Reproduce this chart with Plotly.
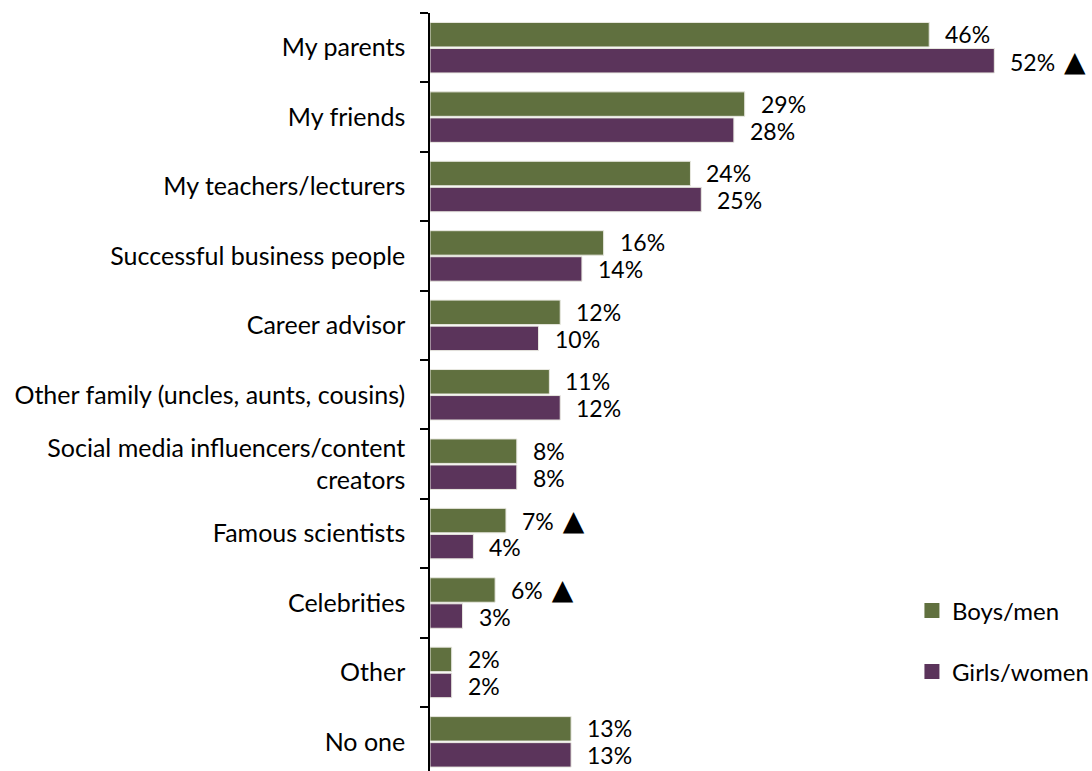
import plotly.graph_objects as go

categories = [
    "My parents",
    "My friends",
    "My teachers/lecturers",
    "Successful business people",
    "Career advisor",
    "Other family (uncles, aunts, cousins)",
    "Social media influencers/content<br>creators",
    "Famous scientists",
    "Celebrities",
    "Other",
    "No one",
]
boys = [46, 29, 24, 16, 12, 11, 8, 7, 6, 2, 13]
girls = [52, 28, 25, 14, 10, 12, 8, 4, 3, 2, 13]
# significance markers shown after the value label
boys_sig = [False, False, False, False, False, False, False, True, True, False, False]
girls_sig = [True, False, False, False, False, False, False, False, False, False, False]
series_names = ["Boys/men", "Girls/women"]

GREEN = "#60703F"
PURPLE = "#5B345B"
FONT = "Lato"
FS = 25
VAL_FS = 23
TRI = "<span style='font-size:28px;font-family:DejaVu Sans'> \u25B2</span>"

fig = go.Figure()
for name, vals, color in ((series_names[0], boys, GREEN), (series_names[1], girls, PURPLE)):
    fig.add_trace(go.Bar(
        y=categories, x=vals, orientation="h", name=name,
        marker=dict(color=color, line=dict(color="#E8E8E0", width=1)),
        showlegend=False, legendgroup=name,
    ))
    # legend-only entry with a larger square swatch
    fig.add_trace(go.Scatter(
        x=[None], y=[None], mode="markers", name=name, legendgroup=name,
        marker=dict(symbol="square", size=15, color=color),
        showlegend=True,
    ))

# value labels next to each bar
n = len(categories)
annotations = []
for i, cat in enumerate(categories):
    for vals, sig, shift in ((boys, boys_sig, -13.5), (girls, girls_sig, 13.5)):
        txt = f"{vals[i]}%" + (TRI if sig[i] else "")
        annotations.append(dict(
            x=vals[i], y=cat, text=txt, showarrow=False,
            xanchor="left", yanchor="middle", xshift=14, yshift=-shift,
            font=dict(family=FONT, size=VAL_FS, color="#000000"),
        ))

fig.update_layout(
    width=1092, height=771,
    margin=dict(l=430, r=0, t=13, b=0, autoexpand=False),
    paper_bgcolor="white", plot_bgcolor="white",
    barmode="group", bargap=0.25, bargroupgap=0.06,
    font=dict(family=FONT, size=FS, color="#000000"),
    showlegend=True,
    legend=dict(
        x=0.728, y=0.241, xanchor="left", yanchor="top",
        font=dict(family=FONT, size=24, color="#000000"),
        tracegroupgap=27, itemwidth=30, itemsizing="trace",
        bgcolor="rgba(0,0,0,0)",
    ),
    annotations=annotations,
    xaxis=dict(range=[0, 61], visible=False, fixedrange=True),
    yaxis=dict(
        type="category",
        range=[n - 1 + 0.42, -0.5],
        showline=True, linecolor="#000000", linewidth=1.5,
        ticks="outside", ticklen=8, tickcolor="#000000", tickwidth=1.5,
        tickson="boundaries", ticklabelstandoff=18,
        showgrid=False, zeroline=False,
        tickfont=dict(family=FONT, size=FS, color="#000000"),
    ),
)

fig.write_html("out.html")
